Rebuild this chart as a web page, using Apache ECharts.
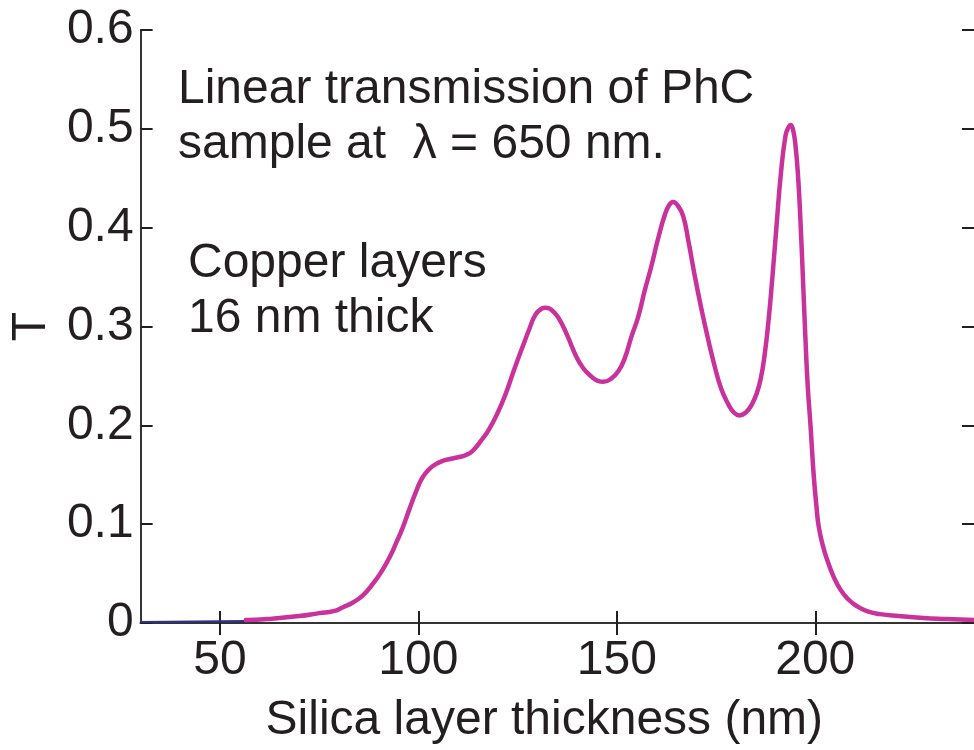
<!DOCTYPE html>
<html>
<head>
<meta charset="utf-8">
<title>Linear transmission of PhC</title>
<script src="https://cdn.jsdelivr.net/npm/echarts@6/dist/echarts.min.js"></script>
<style>
  html, body { margin: 0; padding: 0; background: #fff; }
  #chart { width: 974px; height: 750px; }
</style>
</head>
<body>
<div id="chart"></div>
<script>
  // silica layer thickness (nm) and transmission
  const thickness = [56.5, 62, 70, 75, 78.6, 81, 83.6, 86, 88.6, 90.7, 92.8, 94.5, 96.1, 97.8, 99.4,
    101, 102.8, 104.5, 106.1, 108, 110.3, 112, 113.6, 115.7, 117.8, 120, 122, 124, 126.2, 128,
    129.5, 131, 132, 133.5, 135.4, 137.5, 139.5, 141.5, 143.7, 145.2, 146.6, 148.5, 150.4, 152,
    153.7, 155.4, 157, 158.7, 160.4, 162.1, 163.2, 164.2, 165.4, 166.7, 168.1, 169.6, 171.3, 173,
    174.7, 176.3, 178, 179.5, 180.9, 182.5, 184, 185.3, 186.3, 187.2, 188.2, 189.2, 190.3, 191.3,
    192.5, 193.3, 193.8, 194.4, 195, 195.7, 196.3, 196.9, 197.5, 198.1, 198.8, 199.6, 200.3, 200.9,
    202, 203, 204.5, 206.3, 208.3, 210.5, 213, 216.3, 221, 227.2, 233, 240]
  const transmission = [0.003, 0.004, 0.007, 0.010, 0.012, 0.016, 0.021, 0.028, 0.040, 0.052, 0.067, 0.082, 0.097, 0.116, 0.133,
    0.147, 0.156, 0.161, 0.164, 0.166, 0.168, 0.170, 0.174, 0.184, 0.196, 0.213, 0.232, 0.255, 0.279, 0.298,
    0.312, 0.318, 0.319, 0.317, 0.308, 0.291, 0.272, 0.258, 0.249, 0.245, 0.244, 0.247, 0.255, 0.268,
    0.290, 0.310, 0.336, 0.361, 0.389, 0.413, 0.423, 0.426, 0.422, 0.412, 0.385, 0.352, 0.318, 0.287,
    0.259, 0.237, 0.222, 0.213, 0.210, 0.213, 0.221, 0.233, 0.248, 0.270, 0.305, 0.350, 0.405, 0.453,
    0.493, 0.502, 0.504, 0.499, 0.484, 0.450, 0.404, 0.348, 0.290, 0.240, 0.200, 0.150, 0.118, 0.097,
    0.077, 0.064, 0.048, 0.034, 0.024, 0.017, 0.012, 0.009, 0.007, 0.005, 0.004, 0.003]
  // short blue segment at the left
  const blueThickness = [30, 56.5]
  const blueTransmission = [0.001, 0.002]
  // tick labels
  const xTicks = [50, 100, 150, 200]

  const font = "'Liberation Sans', Arial, Helvetica, sans-serif"
  const ink = '#231f20'

  const chart = echarts.init(document.getElementById('chart'))

  const axisLine = { show: true, lineStyle: { color: '#333', width: 2 } }
  const tickIn = { show: true, inside: true, length: 12, lineStyle: { color: '#231f20', width: 2 } }

  chart.setOption({
    animation: false,
    grid: { left: 136, right: 0, top: 30, bottom: 116, containLabel: false },
    xAxis: [{
      type: 'value',
      min: 30,
      max: 240,
      name: 'Silica layer thickness (nm)',
      nameLocation: 'middle',
      nameGap: 74,
      nameTextStyle: { fontFamily: font, fontSize: 48, color: ink, padding: [0, 26, 0, 0] },
      axisLine: axisLine,
      axisTick: Object.assign({ customValues: xTicks }, tickIn),
      axisLabel: { customValues: xTicks, margin: 14, fontFamily: font, fontSize: 48, color: ink },
      splitLine: { show: false }
    }, {
      type: 'value',
      position: 'top',
      min: 30,
      max: 240,
      axisLine: axisLine,
      axisTick: Object.assign({ customValues: xTicks }, tickIn),
      axisLabel: { show: false },
      splitLine: { show: false }
    }],
    yAxis: [{
      type: 'value',
      min: 0,
      max: 0.6,
      interval: 0.1,
      name: 'T',
      nameLocation: 'middle',
      nameGap: 80,
      nameRotate: 90,
      nameTextStyle: { fontFamily: font, fontSize: 48, color: ink },
      axisLine: axisLine,
      axisTick: tickIn,
      axisLabel: { margin: 7, fontFamily: font, fontSize: 48, color: ink },
      splitLine: { show: false }
    }, {
      type: 'value',
      position: 'right',
      min: 0,
      max: 0.6,
      interval: 0.1,
      axisLine: { show: false },
      axisTick: tickIn,
      axisLabel: { show: false },
      splitLine: { show: false }
    }],
    series: [{
      type: 'line',
      data: blueThickness.map((x, i) => [x, blueTransmission[i]]),
      showSymbol: false,
      lineStyle: { color: '#2e3192', width: 2 },
      z: 3
    }, {
      type: 'line',
      data: thickness.map((x, i) => [x, transmission[i]]),
      smooth: 0.5,
      showSymbol: false,
      lineStyle: { color: '#c9329a', width: 4.5, join: 'round', cap: 'round' },
      z: 4
    }],
    graphic: [
      { type: 'text', x: 178, y: 90, style: { text: 'Linear transmission of PhC', font: '48px ' + font, fill: ink, verticalAlign: 'middle' } },
      { type: 'text', x: 178, y: 145, style: { text: 'sample at  \u03bb = 650 nm.', font: '48px ' + font, fill: ink, verticalAlign: 'middle' } },
      { type: 'text', x: 188, y: 264, style: { text: 'Copper layers', font: '48px ' + font, fill: ink, verticalAlign: 'middle' } },
      { type: 'text', x: 188, y: 319, style: { text: '16 nm thick', font: '48px ' + font, fill: ink, verticalAlign: 'middle' } }
    ]
  })
</script>
</body>
</html>
